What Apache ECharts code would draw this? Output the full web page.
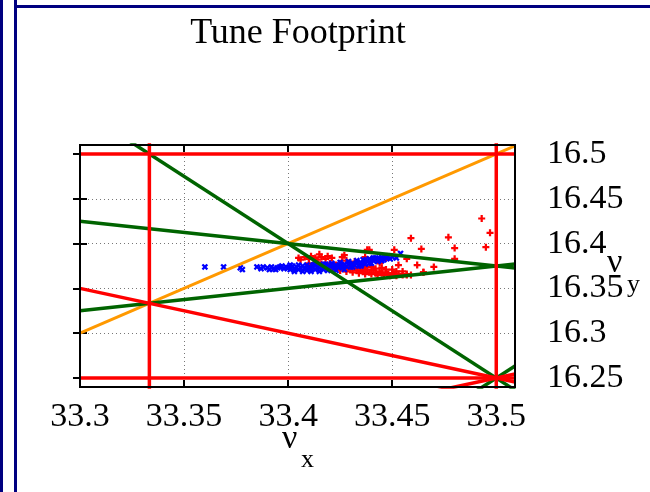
<!DOCTYPE html>
<html>
<head>
<meta charset="utf-8">
<script src="https://cdn.jsdelivr.net/npm/echarts@6/dist/echarts.min.js"></script>
<style>html,body{margin:0;padding:0;background:#fff}#c{width:650px;height:492px}</style>
</head>
<body>
<div id="c"></div>
<script>
// ---- data ----
var xTicks = [33.3, 33.35, 33.4, 33.45, 33.5];
var yTicks = [16.25, 16.3, 16.35, 16.4, 16.45, 16.5];
var xRange = [33.3, 33.509];
var yRange = [16.24, 16.51];

// resonance lines a*nux + b*nuy = c
var redResonances = [[3,0,100],[2,0,67],[0,2,33],[0,4,65],[1,2,66],[1,-2,1]];
var greenResonances = [[3,2,133],[1,4,99],[-1,4,32],[3,-2,68]];
var orangeResonances = [[1,-1,17]];

// tunes, beam 1 (blue x)
var blueTunes = [
[33.360,16.374],[33.369,16.374],[33.377,16.373],[33.378,16.371],[33.385,16.374],[33.387,16.372],[33.388,16.374],[33.390,16.373],
[33.392,16.374],[33.393,16.372],[33.395,16.373],[33.396,16.374],[33.398,16.372],[33.399,16.374],
[33.400,16.373],[33.401,16.371],[33.402,16.375],[33.403,16.372],[33.404,16.374],[33.405,16.371],[33.406,16.373],[33.407,16.375],
[33.408,16.372],[33.409,16.370],[33.410,16.374],[33.411,16.372],[33.412,16.376],[33.413,16.371],[33.414,16.374],[33.415,16.373],
[33.416,16.375],[33.417,16.371],[33.418,16.377],[33.419,16.373],[33.420,16.375],[33.421,16.378],[33.422,16.372],[33.423,16.376],
[33.424,16.374],[33.425,16.379],[33.426,16.373],[33.427,16.377],[33.428,16.375],[33.429,16.380],[33.430,16.374],[33.431,16.378],
[33.432,16.376],[33.433,16.381],[33.434,16.375],[33.435,16.379],[33.436,16.382],[33.437,16.377],[33.438,16.380],[33.439,16.383],
[33.440,16.378],[33.441,16.381],[33.442,16.384],[33.443,16.380],[33.444,16.383],[33.445,16.385],[33.446,16.382],[33.447,16.384],
[33.448,16.386],[33.449,16.383],[33.450,16.385],[33.452,16.384],[33.454,16.389],
[33.401,16.376],[33.403,16.369],[33.405,16.376],[33.407,16.369],[33.409,16.376],[33.411,16.369],[33.413,16.377],[33.415,16.369],
[33.417,16.377],[33.419,16.370],[33.421,16.376],[33.423,16.370],[33.425,16.375],[33.427,16.371],[33.429,16.377],[33.431,16.374],
[33.433,16.378],[33.435,16.375],[33.437,16.381],[33.439,16.378],[33.441,16.384],[33.443,16.383],[33.445,16.381],[33.447,16.386],
[33.394,16.371],[33.397,16.375],[33.391,16.371]
];
// tunes, beam 2 (red +)
var redTunes = [
[33.405,16.384],[33.406,16.382],[33.408,16.385],[33.410,16.383],[33.411,16.386],[33.413,16.384],[33.414,16.382],[33.416,16.385],
[33.418,16.383],[33.419,16.386],[33.421,16.384],[33.415,16.388],[33.426,16.385],
[33.410,16.378],[33.412,16.376],[33.414,16.379],[33.416,16.377],[33.418,16.375],[33.420,16.378],[33.421,16.374],[33.423,16.376],
[33.424,16.373],[33.426,16.375],[33.427,16.372],[33.429,16.374],[33.430,16.371],[33.432,16.373],[33.433,16.370],[33.435,16.372],
[33.436,16.369],[33.438,16.371],[33.439,16.368],[33.441,16.370],[33.442,16.367],[33.444,16.369],[33.445,16.367],[33.447,16.368],
[33.448,16.366],[33.450,16.367],[33.451,16.365],[33.453,16.366],[33.455,16.365],[33.457,16.366],[33.459,16.365],
[33.425,16.378],[33.430,16.377],[33.435,16.376],[33.440,16.374],[33.445,16.373],[33.450,16.371],[33.455,16.369],[33.432,16.380],[33.428,16.381],
[33.419,16.373],[33.422,16.371],[33.425,16.370],[33.428,16.369],[33.431,16.368],[33.434,16.367],[33.437,16.366],[33.440,16.366],
[33.443,16.365],[33.446,16.365],[33.449,16.364],[33.452,16.364],[33.437,16.374],[33.442,16.372],[33.447,16.371],[33.452,16.369],
[33.427,16.387],[33.437,16.385],[33.439,16.393],[33.438,16.393],[33.451,16.393],[33.447,16.384],[33.444,16.378],[33.453,16.376],
[33.457,16.383],[33.459,16.406],[33.462,16.376],[33.464,16.394],[33.465,16.368],[33.470,16.374],[33.477,16.407],[33.480,16.395],
[33.480,16.383],[33.493,16.428],[33.497,16.412],[33.495,16.396],[33.457,16.365],[33.465,16.368]
];

// ---- chart ----
var serif = '"Liberation Serif","Times New Roman",serif';
function resonanceSegment(r) {
  var a = r[0], b = r[1], c = r[2];
  if (b === 0) { var x = c / a; return [[x, yRange[0] - 1], [x, yRange[1] + 1]]; }
  return [[xRange[0], (c - a * xRange[0]) / b], [xRange[1], (c - a * xRange[1]) / b]];
}
function lineSeries(list, color, width) {
  return list.map(function (r) {
    return {
      type: 'line', xAxisIndex: 0, yAxisIndex: 0, data: resonanceSegment(r),
      symbol: 'none', clip: true, z: 4, animation: false, silent: true,
      lineStyle: { color: color, width: width }
    };
  });
}
var plusPath = 'path://M3.4,0H6.6V3.4H10V6.6H6.6V10H3.4V6.6H0V3.4H3.4Z';

var chart = echarts.init(document.getElementById('c'), null, { renderer: 'canvas' });
var dotted = { show: true, lineStyle: { color: '#777', type: [1, 3], width: 1 } };
var tickStyle = { show: true, inside: true, length: 7, lineStyle: { color: '#000', width: 2 } };
var option = {
  animation: false,
  grid: [
    { left: 80, right: 135, top: 145, bottom: 105, show: true, borderColor: '#000', borderWidth: 2, backgroundColor: 'transparent', z: 5 },
    { left: 80, right: 135, top: 154, bottom: 114, show: false }
  ],
  xAxis: [
    { type: 'value', gridIndex: 0, min: xRange[0], max: xRange[1], interval: 0.05, position: 'bottom',
      axisLine: { show: false }, axisTick: tickStyle,
      axisLabel: { show: true, showMaxLabel: false, fontSize: 34, fontFamily: serif, color: '#000', margin: 13,
        formatter: function (v) { return xTicks.some(function (t) { return Math.abs(t - v) < 1e-6; }) ? String(+v.toFixed(2)) : ''; } },
      splitLine: dotted },
    { type: 'value', gridIndex: 0, min: xRange[0], max: xRange[1], interval: 0.05, position: 'top',
      axisLine: { show: false }, axisTick: tickStyle, axisLabel: { show: false }, splitLine: { show: false } },
    { type: 'value', gridIndex: 1, min: 0, max: 1, show: false }
  ],
  yAxis: [
    { type: 'value', gridIndex: 0, min: yRange[0], max: yRange[1], show: false, splitLine: { show: false } },
    { type: 'value', gridIndex: 1, min: yTicks[0], max: yTicks[yTicks.length - 1], interval: 0.05, position: 'right',
      axisLine: { show: false }, axisTick: tickStyle,
      axisLabel: { show: true, fontSize: 34, fontFamily: serif, color: '#000', margin: 32,
        formatter: function (v) { return String(+v.toFixed(2)); } },
      splitLine: dotted },
    { type: 'value', gridIndex: 1, min: yTicks[0], max: yTicks[yTicks.length - 1], interval: 0.05, position: 'left',
      axisLine: { show: false }, axisTick: tickStyle, axisLabel: { show: false }, splitLine: { show: false } }
  ],
  series: [
    { type: 'scatter', xAxisIndex: 0, yAxisIndex: 0, data: redTunes, symbol: plusPath, symbolSize: 7, z: 2,
      itemStyle: { color: '#ff0000', opacity: 1 } },
    { type: 'scatter', xAxisIndex: 0, yAxisIndex: 0, data: blueTunes, symbol: plusPath, symbolSize: 7, symbolRotate: 45, z: 3,
      itemStyle: { color: '#0000ff', opacity: 1 } }
  ].concat(lineSeries(orangeResonances, '#ff9900', 3))
   .concat(lineSeries(greenResonances, '#006400', 3.5))
   .concat(lineSeries(redResonances, '#ff0000', 3.5)),
  graphic: [
    { type: 'rect', shape: { x: 0, y: 0, width: 3, height: 492 }, style: { fill: '#000080' } },
    { type: 'rect', shape: { x: 14, y: 0, width: 3, height: 492 }, style: { fill: '#000080' } },
    { type: 'rect', shape: { x: 14, y: 5, width: 636, height: 3 }, style: { fill: '#000080' } },
    { type: 'text', x: 298, y: 16, style: { text: 'Tune Footprint', font: '36px ' + serif, fill: '#000', textAlign: 'center' } },
    { type: 'text', x: 282, y: 422, style: { text: 'ν', font: '34px ' + serif, fill: '#000' } },
    { type: 'text', x: 301, y: 447, style: { text: 'x', font: '26px ' + serif, fill: '#000' } },
    { type: 'text', x: 607, y: 246, style: { text: 'ν', font: '34px ' + serif, fill: '#000' } },
    { type: 'text', x: 627, y: 272, style: { text: 'y', font: '26px ' + serif, fill: '#000' } }
  ]
};
chart.setOption(option);
</script>
</body>
</html>
